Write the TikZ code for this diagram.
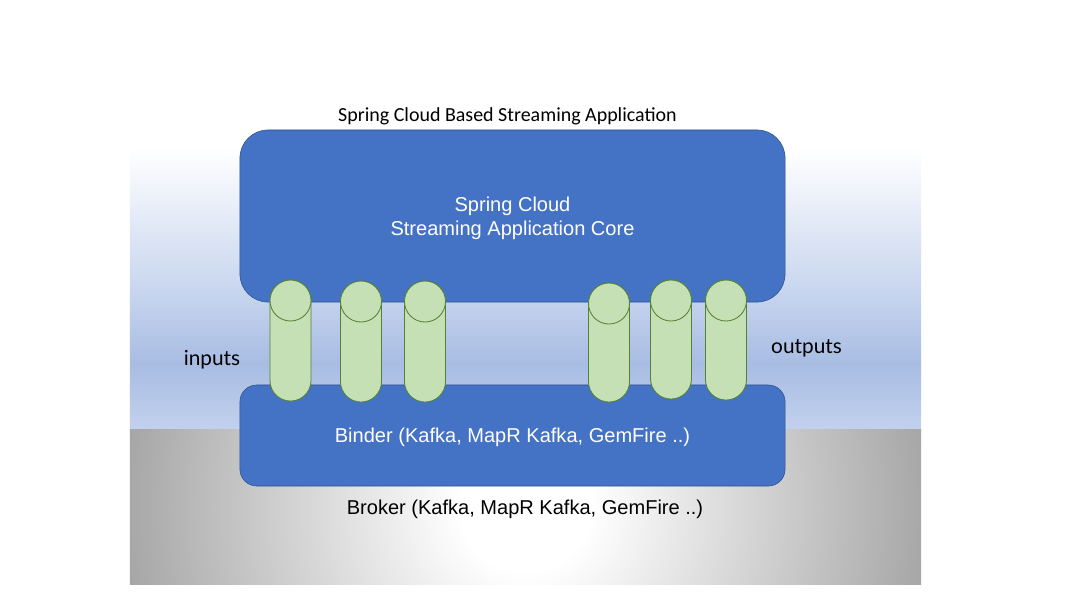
\documentclass[tikz,border=0pt]{standalone}
\usepackage{fontspec}
\setmainfont{Liberation Sans}
\newfontfamily\titlefont{Carlito}
\newfontfamily\handfont{Lato}
\usepackage{xcolor}
\definecolor{coreblue}{HTML}{4472C4}
\definecolor{coreline}{HTML}{2F528F}
\definecolor{tubegreen}{HTML}{C5E0B4}
\definecolor{tubeline}{HTML}{548235}
\pgfdeclareverticalshading{appfade}{100bp}{
  rgb(0bp)=(0.76,0.82,0.93);
  rgb(25bp)=(0.76,0.82,0.93);
  rgb(36bp)=(0.66,0.74,0.89);
  rgb(50bp)=(0.80,0.85,0.94);
  rgb(72bp)=(1,1,1);
  rgb(100bp)=(1,1,1)}
\pgfdeclareradialshading{brokerfade}{\pgfpoint{0bp}{0bp}}{
  rgb(0bp)=(1,1,1);
  rgb(4bp)=(1,1,1);
  rgb(25bp)=(0.65,0.65,0.65);
  rgb(50bp)=(0.65,0.65,0.65)}

\begin{document}
\begin{tikzpicture}[
    x=0.025cm, y=-0.025cm,
    band/.style={rectangle, minimum width=19.775cm, inner sep=0pt},
    core/.style={rectangle, draw=coreline, fill=coreblue, thin, minimum width=13.625cm, text depth=-2pt,
                 inner sep=0pt, align=center, text=white, font=\fontsize{14.25}{17}\selectfont},
    tube/.style={rectangle, draw=tubeline, fill=tubegreen, line width=0.6pt, minimum width=1.025cm,
                 rounded corners=0.51cm, inner sep=0pt},
    tubecap/.style={circle, draw=tubeline, fill=tubegreen, line width=0.6pt, minimum size=1.025cm, inner sep=0pt},
    caption/.style={font=\fontsize{14.25}{17}\selectfont},
    side/.style={font=\handfont\fontsize{14.8}{17}\selectfont}
]
\useasboundingbox (0,0) rectangle (1067,600);
\node[band, minimum height=7.5cm, shading=appfade]   (app)    at (525.5,280) {};
\node[band, minimum height=3.85cm, path picture={
    \node[circle, minimum size=20.25cm, inner sep=0pt, shading=brokerfade] at (path picture bounding box.center) {};
  }] (broker) at (525.5,507) {};

\node[core, minimum height=4.3cm, rounded corners=0.7cm]    (corebox)   at (512.5,216)   {Spring Cloud\\Streaming Application Core};
\node[core, minimum height=2.525cm, rounded corners=0.42cm] (binderbox) at (512.5,435.5) {Binder (Kafka, MapR Kafka, GemFire ..)};

\node[tube, minimum height=3.025cm] (in1)  at (290.5,340.5) {};
\node[tube, minimum height=3.025cm] (in2)  at (361,341.5)   {};
\node[tube, minimum height=3.025cm] (in3)  at (425,341.5)   {};
\node[tube, minimum height=2.975cm] (out1) at (609,342.5)   {};
\node[tube, minimum height=2.975cm] (out2) at (671,339.5)   {};
\node[tube, minimum height=3.0cm]   (out3) at (726,340)     {};

\node[tubecap] (cap1) at (290.5,300.5) {};
\node[tubecap] (cap2) at (361,301.5)   {};
\node[tubecap] (cap3) at (425,301.5)   {};
\node[tubecap] (cap4) at (609,303.5)   {};
\node[tubecap] (cap5) at (671,300.5)   {};
\node[tubecap] (cap6) at (726,300.5)   {};

\node[caption, font=\titlefont\fontsize{14.2}{17}\selectfont] (apptitle) at (507.5,116) {Spring Cloud Based Streaming Application};
\node[caption] (brokertitle) at (525,509) {Broker (Kafka, MapR Kafka, GemFire ..)};
\node[side] (inputs)  at (212,360) {inputs};
\node[side] (outputs) at (806.5,348) {outputs};
\end{tikzpicture}
\end{document}
